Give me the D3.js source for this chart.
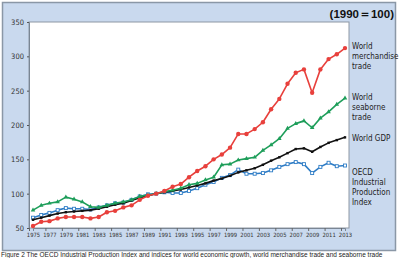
<!DOCTYPE html>
<html><head><meta charset="utf-8">
<script src="https://cdn.jsdelivr.net/npm/d3@7"></script>
<style>body{margin:0;background:#fff;}svg{display:block;}</style>
</head><body>
<script>
const years = d3.range(1975, 2014);
const merchandise = [53,59,60,64,66,66,66,64,66,73,75,80,83,91,97,100,104,110,114,124,133,140,150,157,167,187,187,194,204,223,238,260,276,281,247,281,296,303,312];
const seaborne = [76,83,86,88,95,92,88,81,80,83,86,88,91,96,98,100,103,105,108,113,115,120,124,142,143,149,151,153,163,171,180,195,202,206,196,210,219,230,239];
const gdp = [62,65,68,71,73,74,75,76,78,81,84,86,90,94,97,100,102,104,106,109,112,115,119,122,126,131,134,137,142,148,153,159,165,166,161,168,174,178,182];
const oecd = [65,69,72,76,79,78,78,77,80,83,86,87,91,96,99,100,102,101,101,104,108,113,117,123,127,135,129,129,130,134,139,143,146,143,130,139,145,140,141];
const yTicks = [50,100,150,200,250,300,350];
const xTickYears = d3.range(1975, 2014, 2);
const seriesNames = ["World merchandise trade","World seaborne trade","World GDP","OECD Industrial Production Index"];

const W = 399, H = 258;
const svg = d3.select("body").append("svg").attr("width", W).attr("height", H);
const narrow = "'Liberation Sans Narrow','Arial Narrow','DejaVu Sans Condensed',sans-serif";

// panel
svg.append("rect").attr("x", 2.5).attr("y", 2.5).attr("width", 393).attr("height", 248)
  .attr("fill", "#c9d9ee").attr("stroke", "#8a97a6").attr("stroke-width", 1.5);

const L = 29, R = 349, T = 22, B = 228;
const x = d3.scaleLinear().domain([1975, 2013]).range([L + 4, R - 4]);
const y = d3.scaleLinear().domain([50, 350]).range([B, T]);

svg.append("rect").attr("x", L).attr("y", T).attr("width", R - L).attr("height", B - T)
  .attr("fill", "#fff").attr("stroke", "#8e98a4").attr("stroke-width", 1);

// y axis
const yAxis = svg.append("g").attr("transform", `translate(${L},0)`)
  .call(d3.axisLeft(y).tickValues(yTicks).tickSize(2).tickPadding(3));
yAxis.select(".domain").attr("stroke", "#7a8694");
yAxis.selectAll(".tick line").attr("stroke", "#555");
yAxis.selectAll("text").attr("font-family", narrow).attr("font-size", 7.5).attr("fill", "#333");

// x axis
const xAxis = svg.append("g").attr("transform", `translate(0,${B})`)
  .call(d3.axisBottom(x).tickValues(xTickYears).tickFormat(d3.format("d")).tickSize(3).tickPadding(2));
xAxis.select(".domain").attr("stroke", "#7a8694");
xAxis.selectAll(".tick line").attr("stroke", "#666").attr("transform", "translate(-4,0)");
xAxis.selectAll("text").attr("font-family", narrow).attr("font-size", 5.8).attr("fill", "#333");

const line = d3.line().x((d, i) => x(years[i])).y(d => y(d));

function drawSeries(data, color, marker) {
  svg.append("path").datum(data).attr("d", line).attr("fill", "none")
    .attr("stroke", color).attr("stroke-width", 1.6).attr("stroke-linejoin", "round");
  const g = svg.append("g");
  data.forEach((d, i) => {
    const cx = x(years[i]), cy = y(d);
    if (marker === "circle") {
      g.append("circle").attr("cx", cx).attr("cy", cy).attr("r", 2.2).attr("fill", color);
    } else if (marker === "tri") {
      g.append("path").attr("d", d3.symbol(d3.symbolTriangle, 9)()).attr("transform", `translate(${cx},${cy})`).attr("fill", color);
    } else if (marker === "dot") {
      g.append("rect").attr("x", cx - 1.2).attr("y", cy - 1.2).attr("width", 2.4).attr("height", 2.4).attr("fill", color);
    } else {
      g.append("rect").attr("x", cx - 1.5).attr("y", cy - 1.5).attr("width", 3).attr("height", 3)
        .attr("fill", "#fff").attr("stroke", color).attr("stroke-width", 0.9);
    }
  });
}
drawSeries(oecd, "#2f7dc6", "open");
drawSeries(gdp, "#111", "dot");
drawSeries(seaborne, "#1e9e5a", "tri");
drawSeries(merchandise, "#e8403c", "circle");

// right labels
const labels = [
  {lines: ["World", "merchandise", "trade"], y: 46},
  {lines: ["World", "seaborne", "trade"], y: 97},
  {lines: ["World GDP"], y: 138},
  {lines: ["OECD", "Industrial", "Production", "Index"], y: 172}
];
labels.forEach((lb, k) => {
  const t = svg.append("text").attr("x", 352).attr("y", lb.y + 3).attr("font-family", narrow)
    .attr("font-size", 8).attr("fill", "#222");
  lb.lines.forEach((s, j) => t.append("tspan").attr("x", 352).attr("dy", j === 0 ? 0 : 10).text(s));
});

// title
svg.append("text").attr("x", 394).attr("y", 18).attr("text-anchor", "end")
  .attr("font-family", "'Liberation Sans',Arial,sans-serif").attr("font-weight", "bold")
  .attr("font-size", 11.5).attr("fill", "#111").text("(1990\uFF1D100)");

// caption (at bottom edge)
svg.append("text").attr("x", 1).attr("y", 256.5)
  .attr("font-family", "'Liberation Sans',Arial,sans-serif").attr("font-size", 6.5).attr("fill", "#222")
  .text("Figure 2 The OECD Industrial Production Index and indices for world economic growth, world merchandise trade and seaborne trade");
</script>
</body></html>
